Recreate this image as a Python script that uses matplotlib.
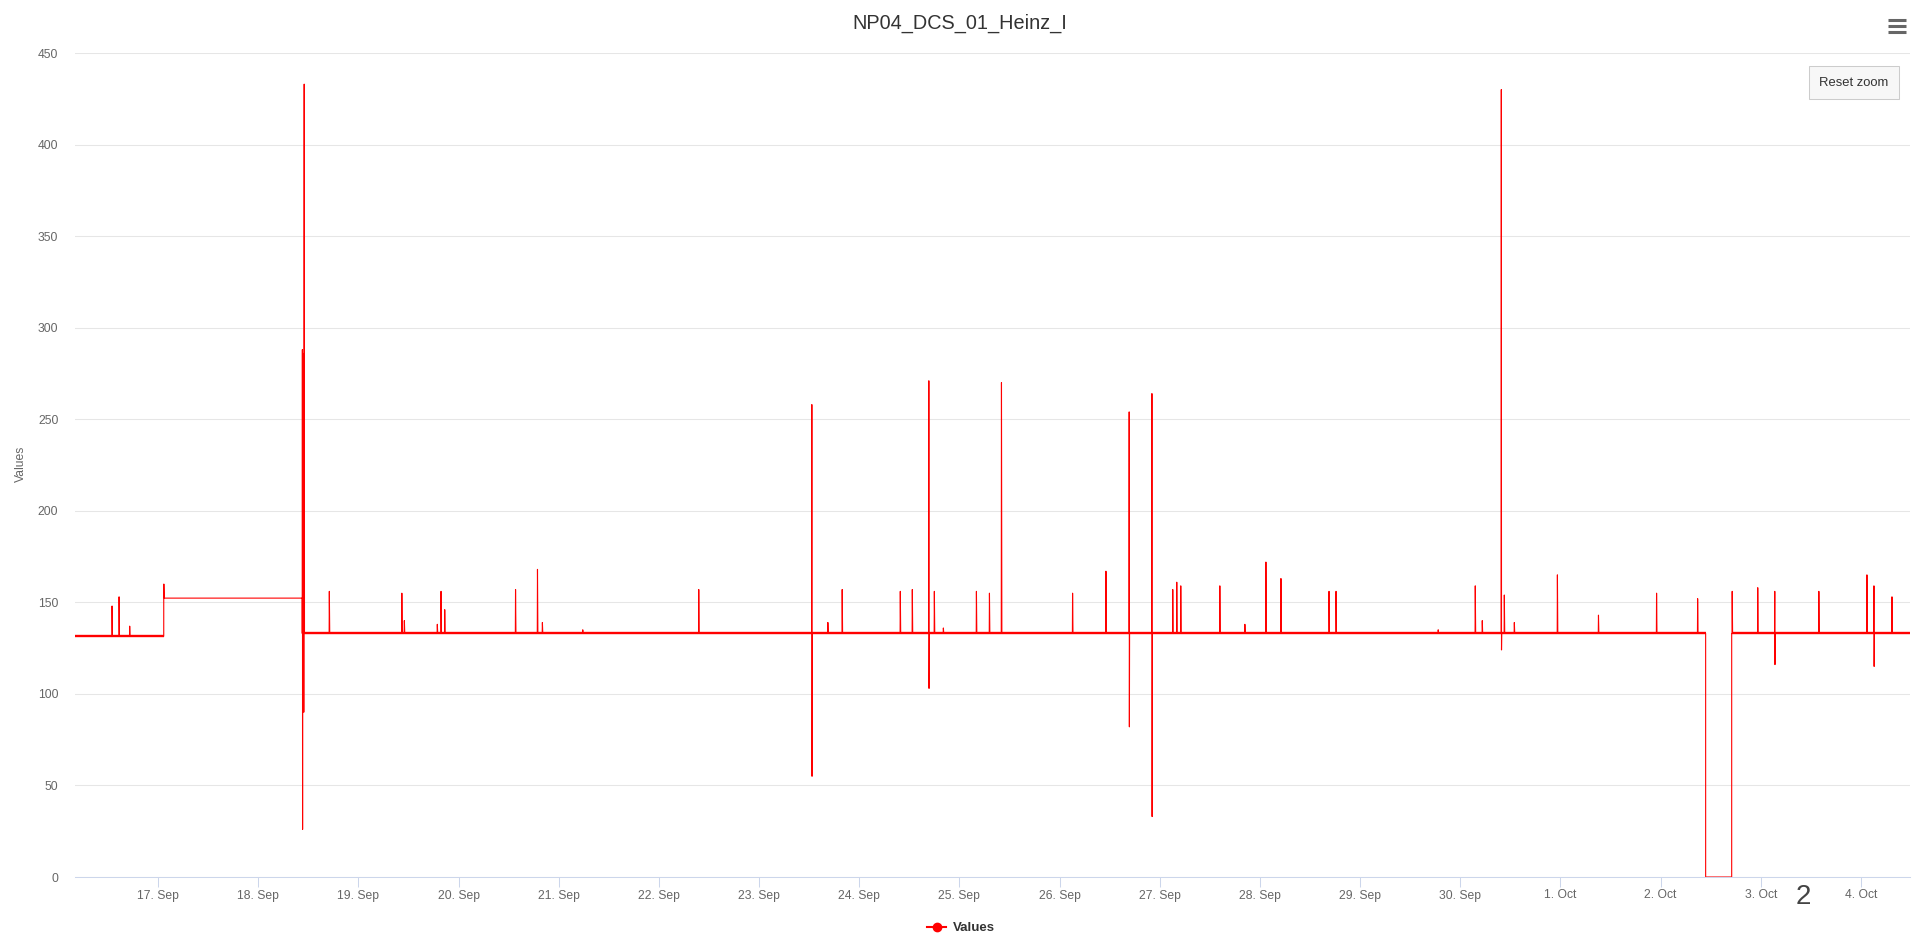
import numpy as np
import matplotlib
matplotlib.use("Agg")
import matplotlib.pyplot as plt
import matplotlib.dates as mdates
from matplotlib.lines import Line2D
from matplotlib.patches import Rectangle
import datetime as dt

plt.rcParams['font.family'] = ['Liberation Sans', 'DejaVu Sans']
plt.rcParams['path.simplify'] = False

# all times are days after 17 Sep 2018 00:00
t0 = mdates.date2num(dt.datetime(2018, 9, 17))
t_start = -0.829
t_end = 17.49

# flat levels of the signal (start day, value)
level_day = [-0.829, 0.057, 1.440, 15.450, 15.710]
level_val = [131.5, 152.3, 133.0, 0.0, 133.0]

# single spikes: day, peak value, dip value (nan = no dip)
spike_day = [-0.459, -0.389, -0.283, 0.058, 1.71, 2.434, 2.459, 2.788, 2.825, 2.862,
             3.569, 3.788, 3.837, 4.24, 5.398, 6.527, 6.687, 6.83, 7.41, 7.53,
             7.695, 7.75, 7.84, 8.17, 8.30, 8.42, 9.13, 9.463, 9.695, 9.922,
             10.13, 10.17, 10.21, 10.60, 10.85, 11.06, 11.21, 11.69, 11.76, 12.78,
             13.15, 13.22, 13.41, 13.44, 13.54, 13.97, 14.38, 14.96, 15.37, 15.715,
             15.97, 16.14, 16.58, 17.06, 17.13, 17.31]
spike_hi = [148, 153, 137, 160, 156, 155, 140, 138, 156, 146,
            157, 168, 139, 135, 157, 258, 139, 157, 156, 157,
            271, 156, 136, 156, 155, 270, 155, 167, 254, 264,
            157, 161, 159, 159, 138, 172, 163, 156, 156, 135,
            159, 140, 430, 154, 139, 165, 143, 155, 152, 156,
            158, 156, 156, 165, 159, 153]
spike_lo = [np.nan] * 15 + [55] + [np.nan] * 4 + [103] + [np.nan] * 7 + [82, 33] \
    + [np.nan] * 12 + [124] + [np.nan] * 8 + [116] + [np.nan] * 2 + [115, np.nan]

# the glitch burst on 18 Sep
burst_day = [1.441, 1.443, 1.445, 1.447, 1.449, 1.451, 1.453, 1.455, 1.459, 1.462]
burst_val = [288, 26, 286, 122, 282, 118, 280, 90, 433, 133]


def base_at(d):
    i = np.searchsorted(level_day, d, side='right') - 1
    return level_val[max(i, 0)]


pts = [(t_start, level_val[0]), (t_end, level_val[-1])]
for i in range(1, len(level_day)):
    pts.append((level_day[i] - 1e-4, level_val[i - 1]))
    pts.append((level_day[i], level_val[i]))
e = 0.002
for d, hi, lo in zip(spike_day, spike_hi, spike_lo):
    pts.append((d - e, base_at(d - e)))
    pts.append((d, hi))
    if not np.isnan(lo):
        pts.append((d + e, lo))
    pts.append((d + 2 * e, base_at(d + 2 * e)))
for d, v in zip(burst_day, burst_val):
    pts.append((d, v))
pts.sort(key=lambda p: p[0])

days = np.array([p[0] for p in pts], dtype=float)
vals = np.array([p[1] for p in pts], dtype=float)


def fx(px):
    return px / 1915


def fy(py):
    return 1 - py / 940


fig = plt.figure(figsize=(19.15, 9.40), dpi=100)
ax = fig.add_axes([fx(75), fy(877), fx(1910) - fx(75), fy(53) - fy(877)])

# noisy baseline looks thicker than the spikes
ends = level_day[1:] + [t_end]
for s, en, v in zip(level_day, ends, level_val):
    if abs(v - 133) < 5:
        ax.plot([t0 + s, t0 + en], [v, v], color='#ff0000', lw=1.7,
                solid_capstyle='butt')
ax.plot(t0 + days, vals, color='#ff0000', lw=0.8)
ax.xaxis_date()

ax.set_xlim(t0 + t_start, t0 + t_end)
ax.set_ylim(0, 450)
ax.set_yticks(np.arange(0, 451, 50))
ax.yaxis.grid(True, color='#e6e6e6', lw=0.75)
ax.set_axisbelow(True)
ax.xaxis.set_major_locator(mdates.DayLocator())
ax.xaxis.set_major_formatter(mdates.DateFormatter('%-d. %b'))
for sp in ['top', 'right', 'left']:
    ax.spines[sp].set_visible(False)
ax.spines['bottom'].set_color('#ccd6eb')
ax.spines['bottom'].set_linewidth(0.75)
ax.tick_params(axis='y', length=0, pad=12, labelsize=8.7, labelcolor='#666666')
ax.tick_params(axis='x', length=7, width=0.75, color='#ccd6eb', pad=2,
               labelsize=8.7, labelcolor='#666666')

fig.text(fx(21), fy(464), 'Values', rotation=90, ha='center', va='center',
         fontsize=8.7, color='#666666')
fig.text(fx(960), fy(23), 'NP04_DCS_01_Heinz_I', ha='center', va='center',
         fontsize=14.3, color='#333333')

# menu icon
for y in (20, 26, 32):
    fig.add_artist(Line2D([fx(1888), fx(1906)], [fy(y), fy(y)], color='#666666',
                          lw=2.2, solid_capstyle='butt'))

# reset zoom button
fig.add_artist(Rectangle((fx(1809), fy(99)), fx(90), fy(66) - fy(99),
                         facecolor='#f7f7f7', edgecolor='#cccccc', lw=0.75,
                         transform=fig.transFigure))
fig.text(fx(1854), fy(83), 'Reset zoom', ha='center', va='center',
         fontsize=9.4, color='#333333')

fig.text(fx(1803), fy(897), '2', ha='center', va='center', fontsize=20, color='#444444')

fig.legend(handles=[Line2D([], [], color='#ff0000', marker='o', markersize=6, lw=1.5)],
           labels=['Values'], loc='center', bbox_to_anchor=(fx(961), fy(928)),
           frameon=False, prop={'weight': 'bold', 'size': 9.5}, labelcolor='#333333',
           handlelength=1.4, handletextpad=0.5)

fig.savefig('out.png', dpi=100)
